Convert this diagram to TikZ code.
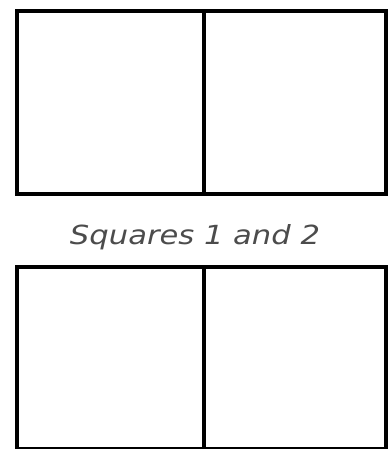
\documentclass[tikz,border=0pt]{standalone}
\usepackage{fontspec}
\setmainfont{DejaVu Sans}
\usepackage{graphicx}
\tikzset{
  sq/.style={draw=black, line width=4pt, minimum height=182pt, inner sep=0pt, outer sep=0pt},
  lbl/.style={text=black!70, inner sep=0pt}
}
\begin{document}
\begin{tikzpicture}[x=1pt,y=-1pt]
\useasboundingbox (0,0) rectangle (388,449);
\fill[white] (0,0) rectangle (388,449);
% top pair
\node[sq, minimum width=186.5pt, anchor=north west] (s1) at (17,11.5) {};
\node[sq, minimum width=182.5pt, anchor=north west] (s2) at (203.5,11.5) {};
% label
\node[lbl] (t) at (195,237) {\resizebox{250pt}{20pt}{\itshape Squares 1 and 2}};
% bottom pair
\node[sq, minimum width=186.5pt, anchor=north west] (s3) at (17,266.5) {};
\node[sq, minimum width=182.5pt, anchor=north west] (s4) at (203.5,266.5) {};
\end{tikzpicture}
\end{document}
